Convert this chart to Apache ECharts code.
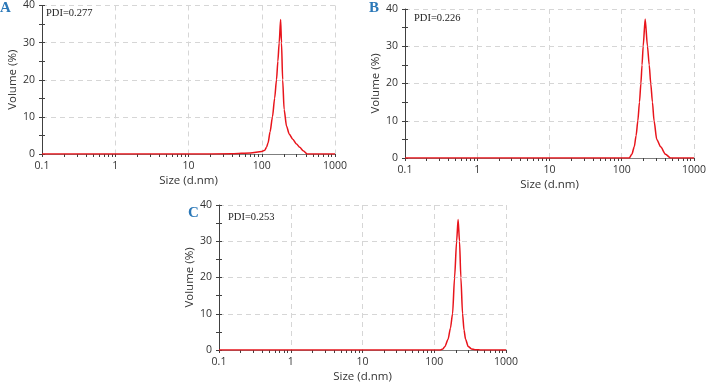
<!DOCTYPE html>
<html>
<head>
<meta charset="utf-8">
<script src="https://cdn.jsdelivr.net/npm/echarts@6/dist/echarts.min.js"></script>
<style>
  html, body { margin: 0; padding: 0; background: #fff; }
  #chart { width: 709px; height: 384px; }
</style>
</head>
<body>
<div id="chart"></div>
<script>
// size (d.nm) / volume (%)
const sizesA = [0.1, 1, 10, 40, 70, 100, 110, 116, 122, 130, 140, 150, 159, 166, 173, 181, 186, 193, 202, 218, 237, 265, 298, 330, 367, 416, 600, 1000]
const volumeA = [0, 0, 0, 0.05, 0.3, 0.7, 1, 1.8, 3, 6, 10, 15, 20, 25, 30, 36.2, 30, 20, 12, 7.5, 5.4, 4, 2.7, 1.8, 0.9, 0, 0, 0]

const sizesB = [0.1, 1, 10, 100, 127, 138, 149, 158, 167, 176, 184, 191, 198, 211, 227, 240, 252, 266, 280, 305, 345, 404, 473, 1000]
const volumeB = [0, 0, 0, 0, 0, 1, 3, 6, 10, 15, 20, 25, 30, 37.3, 30, 25, 20, 15, 10, 5, 3, 1, 0, 0]

const sizesC = [0.1, 1, 10, 100, 122, 132, 141, 156, 168, 180, 192, 205, 215, 225, 235, 248, 260, 273, 297, 330, 368, 457, 1000]
const volumeC = [0, 0, 0, 0, 0, 0.3, 1, 3, 6, 10, 20, 30, 36, 30, 20, 10, 5.5, 3, 1, 0.3, 0.1, 0, 0]

const panelNames = ['A', 'B', 'C']
const pdiTexts = ['PDI=0.277', 'PDI=0.226', 'PDI=0.253']
const xTicks = [0.1, 1, 10, 100, 1000]
const yMax = 40
const yStep = 10

const grids = [
  { left: 42, top: 5, width: 293, height: 149 },
  { left: 405, top: 9, width: 292, height: 149 },
  { left: 219, top: 205, width: 287, height: 145 }
]

const labelFont = 'Open Sans, Noto Sans, sans-serif'
const axisColor = '#404040'

const xAxes = []
const yAxes = []
grids.forEach((g, i) => {
  xAxes.push({
    type: 'log', logBase: 10, gridIndex: i, min: xTicks[0], max: xTicks[xTicks.length - 1],
    name: 'Size (d.nm)', nameLocation: 'middle', nameGap: 21,
    nameTextStyle: { fontFamily: labelFont, fontSize: 11.5, color: '#333' },
    axisLine: { lineStyle: { color: '#7f7f7f', width: 1.2 } },
    axisTick: { length: 3, lineStyle: { color: axisColor } },
    minorTick: { show: true, splitNumber: 9, length: 3, lineStyle: { color: axisColor } },
    axisLabel: {
      fontFamily: labelFont, fontSize: 10.5, color: '#333', margin: 7,
      formatter: v => String(+Number(v).toPrecision(6))
    },
    splitLine: { show: true, lineStyle: { type: [5, 4], color: '#d6d6d6' } }
  })
  yAxes.push({
    type: 'value', gridIndex: i, min: 0, max: yMax, interval: yStep,
    name: 'Volume (%)', nameLocation: 'middle', nameGap: 21,
    nameTextStyle: { fontFamily: labelFont, fontSize: 11.5, color: '#333' },
    axisLine: { show: true, lineStyle: { color: axisColor, width: 1 } },
    axisTick: { show: true, length: 3, lineStyle: { color: axisColor } },
    minorTick: { show: true, splitNumber: 2, length: 3, lineStyle: { color: axisColor } },
    axisLabel: { fontFamily: labelFont, fontSize: 10.5, color: '#333', margin: 7 },
    splitLine: { show: true, lineStyle: { type: [5, 4], color: '#d6d6d6' } }
  })
})
// mirrored axes so the ticks cross the axis line
grids.forEach((g, i) => {
  yAxes.push({
    type: 'value', gridIndex: i, position: 'left', min: 0, max: yMax, interval: yStep,
    axisLine: { show: false }, axisLabel: { show: false }, splitLine: { show: false },
    axisTick: { show: true, inside: true, length: 3, lineStyle: { color: axisColor } },
    minorTick: { show: true, splitNumber: 2, length: 3, lineStyle: { color: axisColor } }
  })
})

const series = [[sizesA, volumeA], [sizesB, volumeB], [sizesC, volumeC]].map(([s, v], i) => ({
  type: 'line', xAxisIndex: i, yAxisIndex: i,
  data: s.map((x, k) => [x, v[k]]),
  showSymbol: false, smooth: 0.25, smoothMonotone: 'x',
  lineStyle: { color: '#e8141b', width: 1.5 },
  z: 5
}))

const graphic = []
const letterPos = [[6, 8], [375, 8], [194, 213]]
const pdiPos = [[46, 14], [414, 19], [228, 218]]
panelNames.forEach((n, i) => {
  graphic.push({
    type: 'text', left: letterPos[i][0] - 6, top: letterPos[i][1] - 7,
    style: { text: n, fontFamily: 'Liberation Serif, DejaVu Serif, serif', fontWeight: 'bold', fontSize: 15, fill: '#2b78b8' }
  })
  graphic.push({
    type: 'text', left: pdiPos[i][0], top: pdiPos[i][1] - 6,
    style: { text: pdiTexts[i], fontFamily: 'Liberation Serif, serif', fontSize: 10.5, fill: '#222' }
  })
})

const chart = echarts.init(document.getElementById('chart'))
chart.setOption({
  animation: false,
  grid: grids,
  xAxis: xAxes,
  yAxis: yAxes,
  series,
  graphic
})
</script>
</body>
</html>
